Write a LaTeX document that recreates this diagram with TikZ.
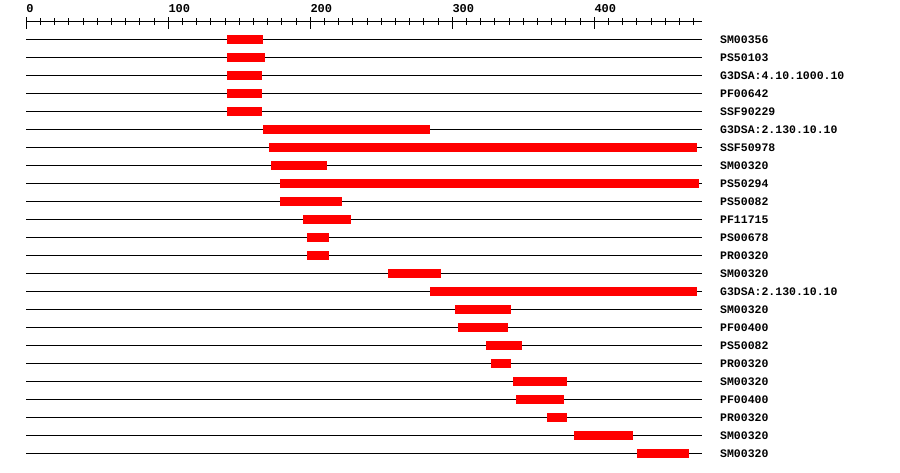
\documentclass[tikz,border=0pt]{standalone}
\usepackage{fontspec}
\setmonofont{Liberation Mono}
\usepackage{tikz}

\begin{document}
\begin{tikzpicture}[
  x=1.42pt, y=-1pt,
  seqline/.style={draw=black, line width=1pt},
  hit/.style={fill=red, draw=none},
  dom/.style={anchor=base west, inner sep=0pt, font=\ttfamily\bfseries\fontsize{11.5}{12}\selectfont},
  ticklab/.style={anchor=base west, inner sep=0pt, font=\ttfamily\bfseries\fontsize{12}{12}\selectfont}
]
\useasboundingbox (-18.52,0) rectangle (615.28,472);

% ruler
\draw[seqline] (0,21.7) coordinate (r0) -- (476,21.7) coordinate (r1);
\foreach \t in {0,10,...,470}
  \draw[seqline] (\t,18.3) -- (\t,24.8);
\foreach \t in {0,100,...,400} {
  \draw[seqline] (\t,17) -- (\t,28.5);
  \node[ticklab] (t\t) at (\t,12.3) {\t};
}

% domain tracks
\foreach \lab/\s/\e [count=\i] in {
  SM00356/141/167, PS50103/141/168, G3DSA:4.10.1000.10/141/166,
  PF00642/141/166, SSF90229/141/166, G3DSA:2.130.10.10/167/284,
  SSF50978/171/472, SM00320/172/212, PS50294/179/474,
  PS50082/179/222, PF11715/195/229, PS00678/198/213,
  PR00320/198/213, SM00320/255/292, G3DSA:2.130.10.10/284/472,
  SM00320/302/341, PF00400/304/339, PS50082/324/349,
  PR00320/327/341, SM00320/343/381, PF00400/345/379,
  PR00320/367/381, SM00320/386/427, SM00320/430/467} {
  \pgfmathsetmacro\yy{39.4+18*(\i-1)}
  \draw[seqline] (0,\yy) -- (476,\yy);
  \fill[hit] (\s,\yy-4.5) rectangle (\e,\yy+4.5);
  \node[dom] (d\i) at (488.5,\yy+3.7) {\lab};
}
\end{tikzpicture}
\end{document}
